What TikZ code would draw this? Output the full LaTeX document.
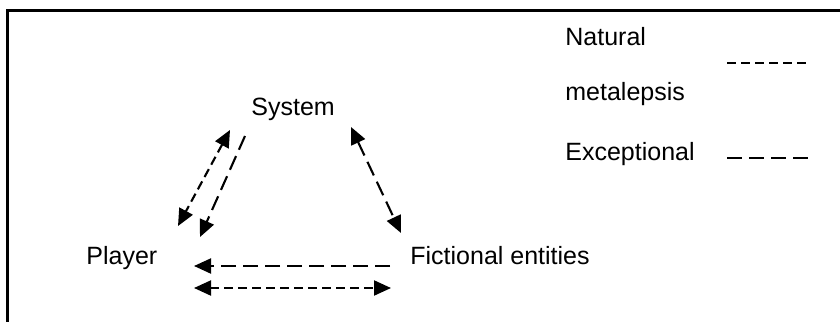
\documentclass[tikz,border=0pt]{standalone}
\usepackage{fontspec}
\setmainfont{Liberation Sans}
\usetikzlibrary{arrows.meta}

\begin{document}
\begin{tikzpicture}[x=0.5pt,y=-0.5pt,
  label/.style={anchor=base west,inner sep=0pt,font=\fontsize{12.5}{15}\selectfont},
  natural/.style={line width=1.05pt,dash pattern=on 4.5pt off 2.5pt},
  exceptional/.style={line width=1.05pt,dash pattern=on 7.5pt off 3.5pt},
  tip/.style={-{Triangle[length=8.5pt,width=7.5pt]}},
  tips/.style={{Triangle[length=8.5pt,width=7.5pt]}-{Triangle[length=8.5pt,width=7.5pt]}}]
  \useasboundingbox (0,0) rectangle (840,322);

  % frame (top and left edges)
  \draw[line width=1.3pt] (840,10.5) -- (7.5,10.5) -- (7.5,322);

  % actors
  \node[label] (sys) at (251,115) {System};
  \node[label] (pl)  at (86,264)  {Player};
  \node[label] (fic) at (410,264) {Fictional entities};

  % legend
  \node[label] (nat) at (565,45)  {Natural};
  \node[label] (met) at (565,100) {metalepsis};
  \node[label] (exc) at (565,160) {Exceptional};
  \coordinate (n1) at (727,63);  \coordinate (n2) at (808,63);
  \coordinate (e1) at (727,158); \coordinate (e2) at (808,158);
  \draw[line width=0.8pt,dash pattern=on 4.5pt off 2.5pt] (n1) -- (n2);
  \draw[line width=0.8pt,dash pattern=on 7.5pt off 3.5pt] (e1) -- (e2);

  % connector end points
  \coordinate (sp1) at (230,130);
  \coordinate (ps1) at (178,226);
  \coordinate (sp2) at (245,136);
  \coordinate (ps2) at (200,237);
  \coordinate (sf1) at (351,127);
  \coordinate (fs1) at (401,233);
  \coordinate (fp1) at (390,266);
  \coordinate (pf1) at (194,266);
  \coordinate (pf2) at (194,288);
  \coordinate (fp2) at (391,288);

  % metalepsis connectors
  \draw[natural,tips] (sp1) -- (ps1);
  \draw[exceptional,tip] (sp2) -- (ps2);
  \draw[exceptional,tips] (sf1) -- (fs1);
  \draw[exceptional,tip] (fp1) -- (pf1);
  \draw[natural,tips] (pf2) -- (fp2);
\end{tikzpicture}
\end{document}
